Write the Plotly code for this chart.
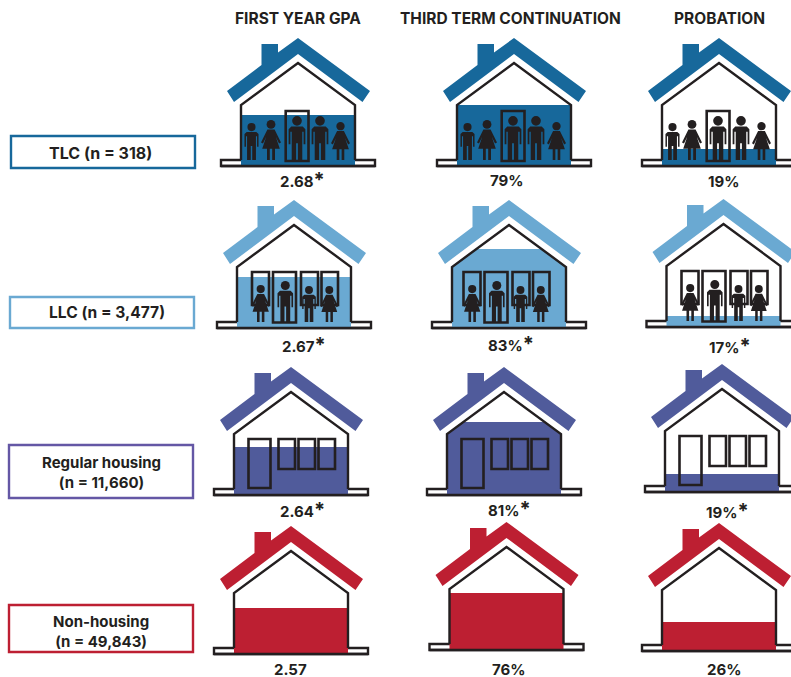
import plotly.graph_objects as go

# ---------- data ----------
groups = ["TLC (n = 318)", "LLC (n = 3,477)", "Regular housing<br>(n = 11,660)", "Non-housing<br>(n = 49,843)"]
metrics = ["FIRST YEAR GPA", "THIRD TERM CONTINUATION", "PROBATION"]
STAR = "<span style='font-size:20px'>*</span>"
gpa_labels = ["2.68" + STAR, "2.67" + STAR, "2.64" + STAR, "2.57"]
continuation_labels = ["79%", "83%" + STAR, "81%" + STAR, "76%"]
probation_labels = ["19%", "17%" + STAR, "19%" + STAR, "26%"]
# how high the colour rises in each house, as a percent of the house height
gpa_fill = [49.5, 49.5, 46.6, 44.7]
continuation_fill = [59.2, 76.7, 70.9, 55.3]
probation_fill = [16.5, 10.7, 17.5, 28.2]
group_colors = ["#17689b", "#6aa9d2", "#505b9b", "#bd1f32"]
box_colors = ["#17689b", "#6aa9d2", "#6457a5", "#bd1f32"]

# ---------- layout of the page ----------
INK = "#231f20"
HOUSE_H = 103
WALL_L, WALL_R, CORNER = -57, 57, 61
GROUND = 77
anchors = [[(298, 166), (514, 166), (719, 166)],
           [(294, 328), (509, 328), (723.5, 327)],
           [(291, 495), (504, 495), (722, 492)],
           [(291, 654), (506.5, 650), (719, 651)]]
label_pos = [[(302, 180), (506.5, 180), (723, 181)],
             [(304, 345), (511, 344), (730, 346)],
             [(302, 510), (509.5, 509), (727.5, 511)],
             [(290, 668.5), (508.5, 668.5), (724, 668.5)]]
boxes = [(11, 136, 195, 168), (10, 297, 194, 328), (9, 445, 193, 498), (9, 605, 193, 652)]
box_text_x = [100.5, 107, 101, 100.5]
box_text_y = [153, 312, 472, 631]
box_text_size = [16, 15.6, 15, 15]
header_x = [298, 510, 719]
roof = [(0, 128), (72, 75), (64.5, 64), (0, 112), (-64, 64), (-71, 75), (-36.5, 101), (-36.5, 122), (-20, 122), (-20, 113.5)]
MAN = [(-.13, .76), (.13, .76), (.19, .70), (.19, .36), (.15, .36), (.15, .64), (.12, .64), (.12, 0), (.02, 0), (.02, .38),
       (-.02, .38), (-.02, 0), (-.12, 0), (-.12, .64), (-.15, .64), (-.15, .36), (-.19, .36), (-.19, .70)]
WOMAN = [(-.09, .76), (.09, .76), (.25, .44), (.20, .41), (.12, .58), (.22, .28), (.1, .28), (.1, 0), (.03, 0), (.03, .28),
         (-.03, .28), (-.03, 0), (-.1, 0), (-.1, .28), (-.22, .28), (-.12, .58), (-.20, .41), (-.25, .44)]
# (figure, dx, height)
people = [[(MAN, -46.5, 37), (WOMAN, -27, 40), (MAN, -1, 44), (MAN, 22, 44), (WOMAN, 42.5, 38)],
          [(WOMAN, -33.3, 37), (MAN, -8.7, 41), (MAN, 15, 36), (WOMAN, 35.3, 36)],
          [], []]
# (left, right, bottom, top) relative to the house
frames = [[(-12.3, 10.5, 5, 55)],
          [(-42, -25, 23, 56), (-21, 2, 5.5, 56), (7, 24, 23, 56), (27.5, 44, 23, 56)],
          [(-42.5, -20.5, 7, 56), (-12.5, 4, 26, 56), (7.5, 24, 26, 56), (27.5, 44, 26, 56)],
          []]
content_shift = {(1, 1): -3.5}

fig = go.Figure()
shapes, notes = [], []


def path(points, close=True):
    return "M" + " L".join(f"{x:.2f},{y:.2f}" for x, y in points) + (" Z" if close else "")


def fill_outline(level):
    h = HOUSE_H * level / 100
    if h <= CORNER:
        return [(WALL_L, 0), (WALL_R, 0), (WALL_R, h), (WALL_L, h)]
    inset_l = WALL_L * (HOUSE_H - h) / (HOUSE_H - CORNER)
    inset_r = WALL_R * (HOUSE_H - h) / (HOUSE_H - CORNER)
    return [(WALL_L, 0), (WALL_R, 0), (WALL_R, CORNER), (inset_r, h), (inset_l, h), (WALL_L, CORNER)]


fills = [gpa_fill, continuation_fill, probation_fill]
labels = [gpa_labels, continuation_labels, probation_labels]

for r, row in enumerate(anchors):
    color = group_colors[r]
    for c, (ax, ay) in enumerate(row):
        P = lambda pts: [(ax + x, ay - y) for x, y in pts]
        shift = content_shift.get((r, c), 0)
        # ground slab
        shapes.append(dict(type="rect", x0=ax - GROUND, x1=ax + GROUND, y0=ay - 6, y1=ay, layer="below",
                           line=dict(color=INK, width=2.4), fillcolor="white"))
        # level fill, from the data
        pts = P(fill_outline(fills[c][r]))
        fig.add_trace(go.Scatter(x=[p[0] for p in pts] + [pts[0][0]], y=[p[1] for p in pts] + [pts[0][1]],
                                 mode="lines", fill="toself", fillcolor=color, line=dict(color=color, width=0),
                                 hoverinfo="skip", showlegend=False))
        # roof
        shapes.append(dict(type="path", path=path(P(roof)), fillcolor=color, line=dict(width=0)))
        # walls
        wall = [(WALL_L, 6), (WALL_L, CORNER), (0, HOUSE_H), (WALL_R, CORNER), (WALL_R, 6)]
        shapes.append(dict(type="path", path=path(P(wall), close=False), line=dict(color=INK, width=2.4),
                           fillcolor="rgba(0,0,0,0)"))
        # ground base line on top of fill
        shapes.append(dict(type="line", x0=ax - GROUND, x1=ax + GROUND, y0=ay, y1=ay, line=dict(color=INK, width=2.4)))
        # frames
        for l, rr, b, t in frames[r]:
            shapes.append(dict(type="rect", x0=ax + shift + l, x1=ax + shift + rr, y0=ay - t, y1=ay - b,
                               line=dict(color=INK, width=2.6)))
        # people
        for fig_pts, dx, h in people[r]:
            feet = 6
            body = [(ax + shift + dx + x * h, ay - feet - y * h) for x, y in fig_pts]
            shapes.append(dict(type="path", path=path(body), fillcolor=INK, line=dict(width=0)))
            rad = 0.11 * h
            cy = ay - feet - 0.89 * h
            shapes.append(dict(type="circle", x0=ax + shift + dx - rad, x1=ax + shift + dx + rad, y0=cy - rad, y1=cy + rad,
                               fillcolor=INK, line=dict(width=0)))
        # value text
        lx, ly = label_pos[r][c]
        note = dict(x=lx, y=ly, text=labels[c][r], showarrow=False, xanchor="center", yanchor="middle",
                    font=dict(family="Inter", size=15, color=INK, weight=700))
        if r == 3:
            note["height"] = 16
        notes.append(note)
    # group box
    x0, y0, x1, y1 = boxes[r]
    shapes.append(dict(type="rect", x0=x0, x1=x1, y0=y0, y1=y1, line=dict(color=box_colors[r], width=2.4),
                       fillcolor="white"))
    notes.append(dict(x=box_text_x[r], y=box_text_y[r], text=groups[r], showarrow=False, xanchor="center",
                      yanchor="middle", font=dict(family="Inter", size=box_text_size[r], color=INK, weight=700)))

for m, x in zip(metrics, header_x):
    notes.append(dict(x=x, y=18, text=m, showarrow=False, xanchor="center", yanchor="middle",
                      font=dict(family="Inter", size=15.5, color=INK, weight=700)))

fig.update_layout(width=791, height=677, margin=dict(l=0, r=0, t=0, b=0), paper_bgcolor="white",
                  plot_bgcolor="white", showlegend=False, shapes=shapes, annotations=notes,
                  xaxis=dict(range=[0, 791], visible=False, fixedrange=True),
                  yaxis=dict(range=[677, 0], visible=False, fixedrange=True))
fig.write_html("out.html", config=dict(displayModeBar=False),
               post_script="document.body.style.margin='0';document.body.style.overflow='hidden';")
